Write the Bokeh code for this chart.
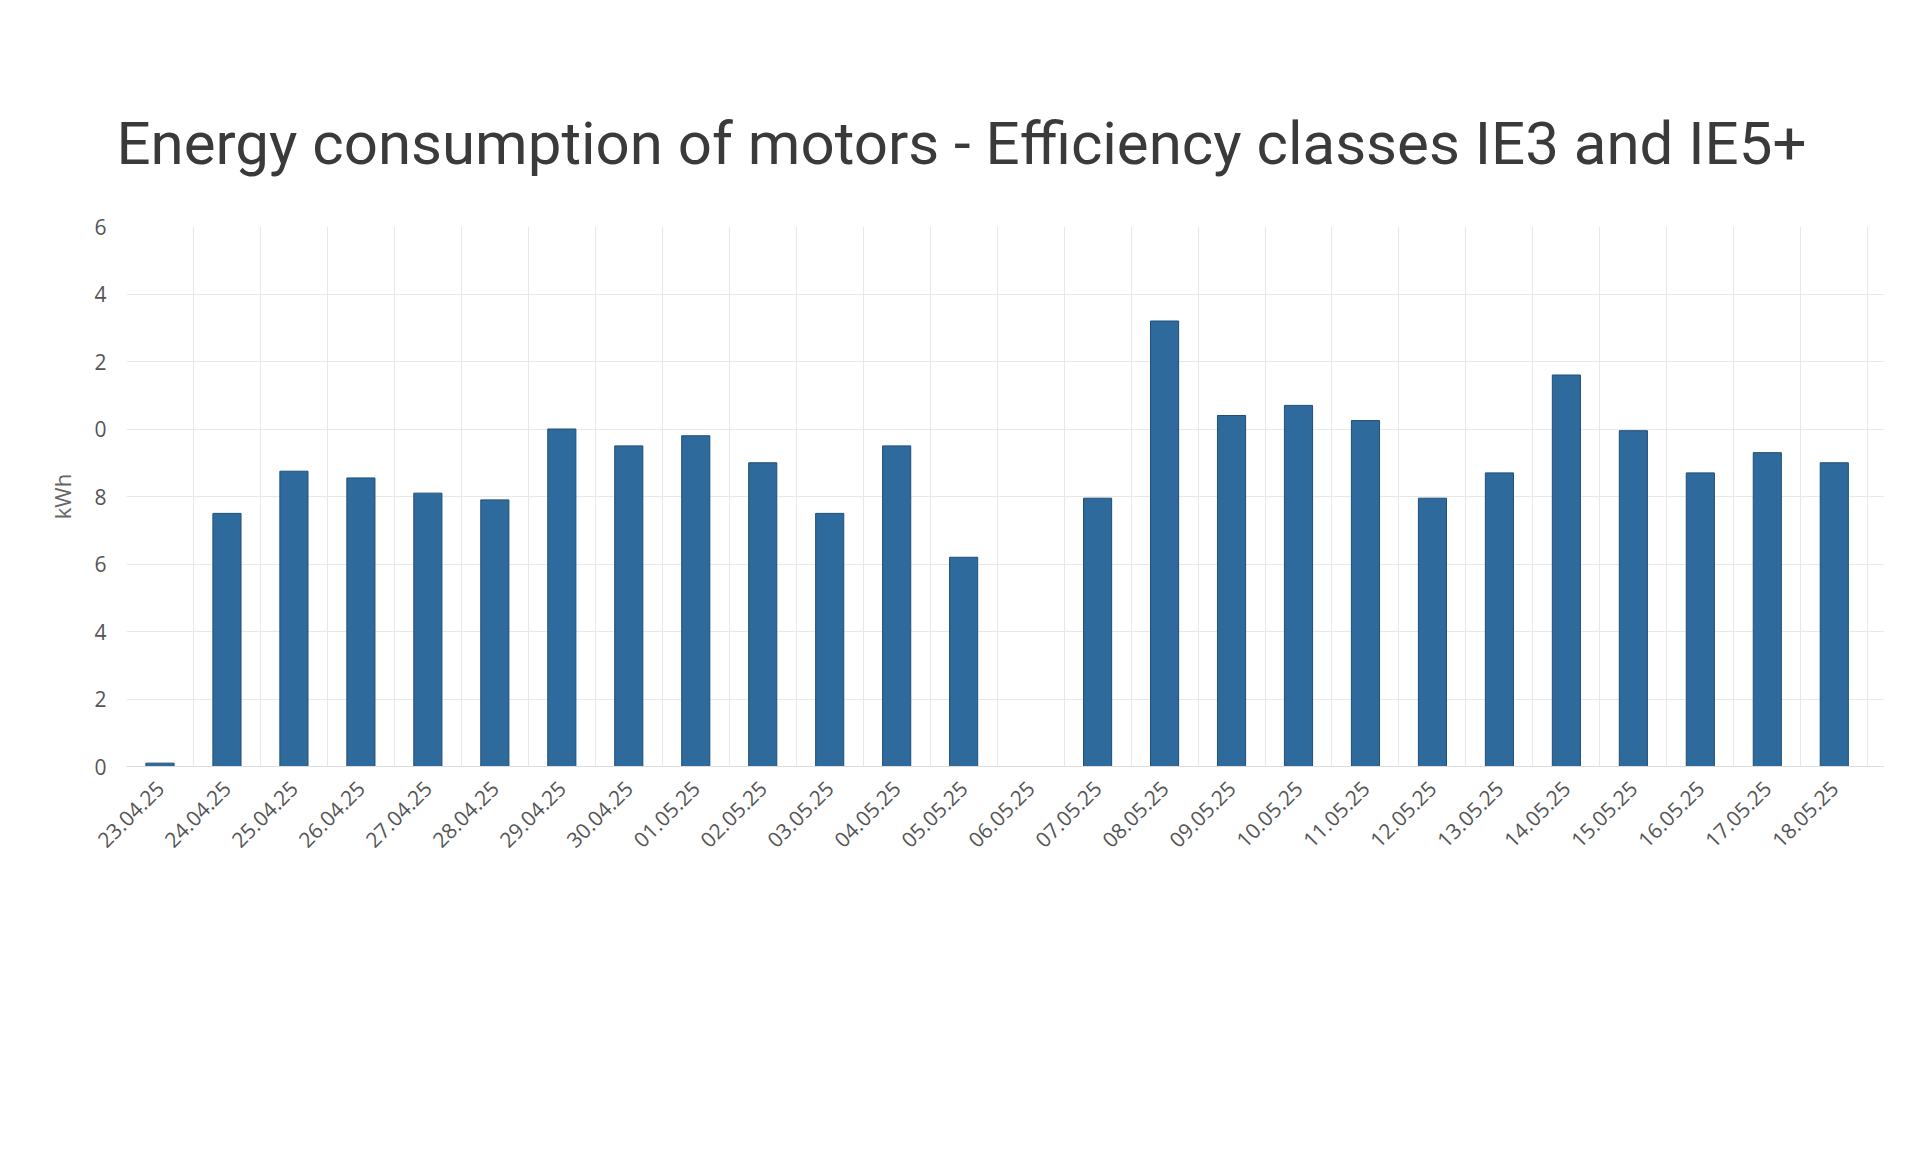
from bokeh.plotting import figure
from bokeh.models import FixedTicker, Range1d
from bokeh.embed import file_html
from bokeh.resources import INLINE

dates = ["23.04.25","24.04.25","25.04.25","26.04.25","27.04.25","28.04.25","29.04.25","30.04.25",
         "01.05.25","02.05.25","03.05.25","04.05.25","05.05.25","06.05.25","07.05.25","08.05.25",
         "09.05.25","10.05.25","11.05.25","12.05.25","13.05.25","14.05.25","15.05.25","16.05.25",
         "17.05.25","18.05.25","19.05.25"]
kwh = [0.1,7.5,8.75,8.55,8.1,7.9,10.0,9.5,9.8,9.0,7.5,9.5,6.2,0.0,7.95,13.2,10.4,10.7,10.25,
       7.95,8.7,11.6,9.95,8.7,9.3,9.0,0.0]
y_ticks = [0,2,4,6,8,10,12,14,16]
y_tick_labels = ["0","2","4","6","8","0","2","4","6"]

xs = list(range(len(dates)))
p = figure(width=1884, height=1130, output_backend="svg", toolbar_location=None,
           x_range=Range1d(-0.5, 25.75), y_range=Range1d(0, 16),
           min_border_left=126, min_border_right=0, min_border_bottom=364, min_border_top=226)
p.title.text = "Energy consumption of motors - Efficiency classes IE3 and IE5+"
p.title.text_font = "Roboto"
p.title.text_font_size = "60px"
p.title.text_font_style = "normal"
p.title.text_color = "#3a3a3a"
p.title.offset = -10
p.title.standoff = 95
p.outline_line_color = None
p.vbar(x=xs, top=kwh, width=0.42, fill_color="#2f6a9c", line_color="#1f4e78", line_width=1)

p.xaxis.ticker = FixedTicker(ticks=xs)
p.xaxis.major_label_overrides = {i: d for i, d in enumerate(dates)}
p.xaxis.major_label_orientation = 0.785
p.xaxis.major_label_text_font = "Open Sans"
p.xaxis.major_label_text_font_size = "21px"
p.xaxis.major_label_text_color = "#555555"
p.xaxis.major_label_standoff = 12
p.xaxis.axis_line_color = "#dddddd"
p.xaxis.major_tick_line_color = None
p.xaxis.minor_tick_line_color = None

p.yaxis.ticker = FixedTicker(ticks=y_ticks)
p.yaxis.major_label_overrides = {t: l for t, l in zip(y_ticks, y_tick_labels)}
p.yaxis.major_label_text_font = "Open Sans"
p.yaxis.major_label_text_font_size = "21px"
p.yaxis.major_label_text_color = "#555555"
p.yaxis.major_label_standoff = 14
p.yaxis.axis_line_color = None
p.yaxis.major_tick_line_color = None
p.yaxis.minor_tick_line_color = None
p.yaxis.axis_label = "kWh"
p.yaxis.axis_label_text_font = "Open Sans"
p.yaxis.axis_label_text_font_size = "22px"
p.yaxis.axis_label_text_font_style = "normal"
p.yaxis.axis_label_text_color = "#666666"
p.yaxis.axis_label_standoff = 14

p.xgrid.ticker = FixedTicker(ticks=[i - 0.5 for i in xs])
p.xgrid.grid_line_color = "#e8e8e8"
p.ygrid.grid_line_color = "#e8e8e8"

open("out.html", "w").write(file_html(p, INLINE))
